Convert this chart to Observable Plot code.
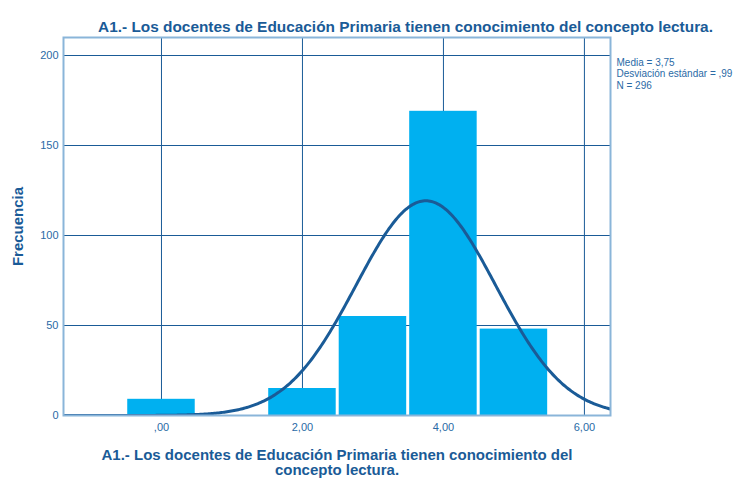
<!DOCTYPE html>
<html><head><meta charset="utf-8">
<script src="https://cdn.jsdelivr.net/npm/d3@7"></script>
<script src="https://cdn.jsdelivr.net/npm/@observablehq/plot@0.6"></script>
<style>body{margin:0;background:#fff}</style>
</head><body><div id="chart"></div>
<script>
const categories = [0, 2, 3, 4, 5];
const counts = [9, 15, 55, 169, 48];
const mean = 3.75, sd = 0.99, n = 296;
const xTicks = [0, 2, 4, 6];
const xTickLabels = [",00", "2,00", "4,00", "6,00"];
const yTicks = [0, 50, 100, 150, 200];
const title = "A1.- Los docentes de Educación Primaria tienen conocimiento del concepto lectura.";
const xLabel = "A1.- Los docentes de Educación Primaria tienen conocimiento del\nconcepto lectura.";
const yLabel = "Frecuencia";
const statsText = "Media = 3,75\nDesviación estándar = ,99\nN = 296";

const xDomain = [-1.39, 6.37];
const bars = categories.map((c, i) => ({x1: c - 0.5, x2: c + 0.5, y: counts[i]}));
// fitted normal curve from the stats shown (bin width 1)
const curve = d3.range(xDomain[0], xDomain[1] + 0.001, 0.02).map(x => ({
  x, y: n / (sd * Math.sqrt(2 * Math.PI)) * Math.exp(-0.5 * ((x - mean) / sd) ** 2)
}));

const dark = "#1a5b97", txt = "#2a6aa6";
const chart = Plot.plot({
  width: 739, height: 478,
  marginLeft: 63, marginRight: 129, marginTop: 37, marginBottom: 63,
  x: {domain: xDomain}, y: {domain: [0, 210]},
  style: {fontFamily: "'Liberation Sans', Arial, sans-serif", background: "#fff"},
  marks: [
    Plot.gridX(xTicks, {stroke: dark, strokeOpacity: 1, strokeWidth: 1}),
    Plot.gridY(yTicks.slice(1), {stroke: dark, strokeOpacity: 1, strokeWidth: 1}),
    Plot.rectY(bars, {x1: "x1", x2: "x2", y: "y", fill: "#00b0f0", insetLeft: 1.5, insetRight: 1.5}),
    Plot.line(curve, {x: "x", y: "y", stroke: dark, strokeWidth: 3, clip: true}),
    Plot.frame({stroke: "#8ab5d9", strokeWidth: 2}),
    Plot.axisX(xTicks, {tickSize: 0, tickPadding: 8, tickFormat: (d) => xTickLabels[xTicks.indexOf(d)], fill: txt, fontSize: 11, label: null}),
    Plot.axisY(yTicks, {tickSize: 0, tickPadding: 5, fill: txt, fontSize: 11, label: null}),
    Plot.text([title], {frameAnchor: "top", dx: 68.5, dy: -16, fontSize: 15.4, fontWeight: "bold", fill: dark}),
    Plot.text([yLabel], {frameAnchor: "left", dx: -45, rotate: -90, textAnchor: "middle", fontSize: 15, fontWeight: "bold", fill: dark}),
    Plot.text([xLabel], {frameAnchor: "bottom", dy: 34, lineAnchor: "top", lineHeight: 1.0, fontSize: 15, fontWeight: "bold", fill: dark}),
    Plot.text([statsText], {frameAnchor: "top-right", dx: 6, dy: 20, textAnchor: "start", lineAnchor: "top", lineHeight: 1.15, fontSize: 10, fill: txt})
  ]
});
document.getElementById("chart").append(chart);
</script></body></html>
